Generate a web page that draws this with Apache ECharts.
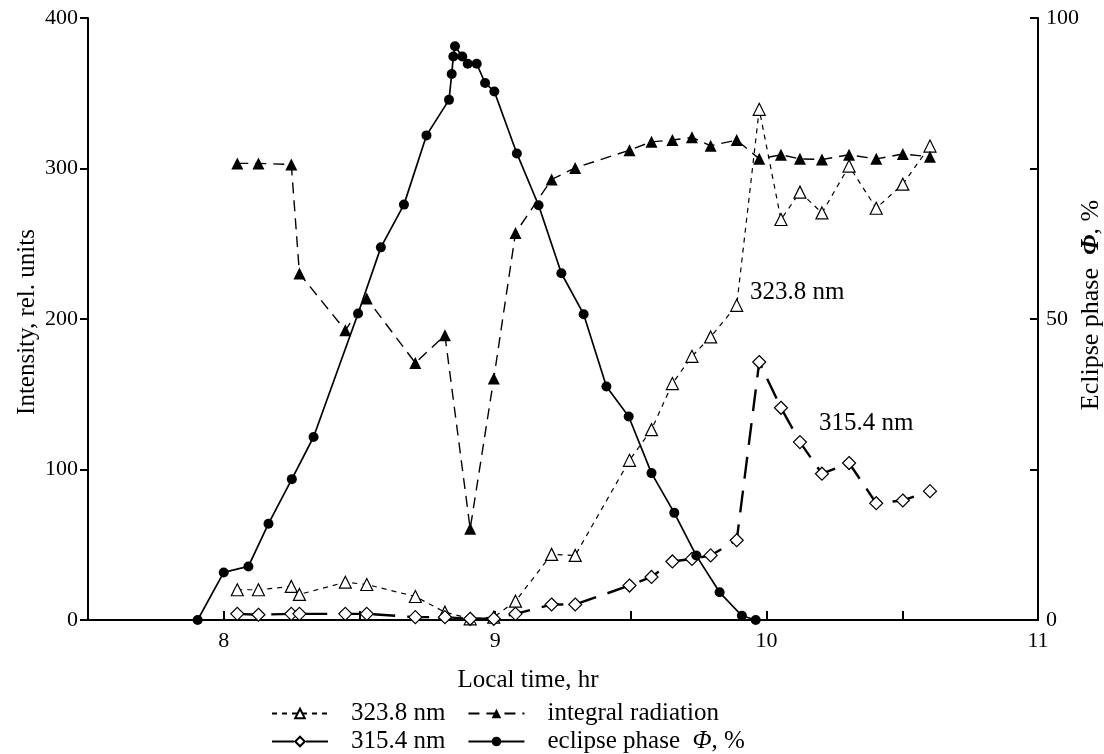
<!DOCTYPE html>
<html><head><meta charset="utf-8">
<script src="https://cdn.jsdelivr.net/npm/echarts@6/dist/echarts.min.js"></script>
<style>html,body{margin:0;padding:0;background:#fff}#c{width:1104px;height:754px}</style>
</head><body><div id="c"></div>
<script>
// ---- data ----
const eclipseTime = [7.904, 8.000, 8.091, 8.165, 8.251, 8.331, 8.495, 8.579, 8.664, 8.747, 8.830, 8.840, 8.846, 8.852, 8.879, 8.899, 8.932, 8.963, 8.997, 9.080, 9.160, 9.244, 9.326, 9.410, 9.492, 9.576, 9.660, 9.741, 9.827, 9.909, 9.960];
const eclipsePhase = [0, 7.9, 8.9, 16.0, 23.4, 30.4, 50.9, 61.9, 69.0, 80.5, 86.4, 90.7, 93.6, 95.3, 93.6, 92.4, 92.4, 89.2, 87.8, 77.5, 68.9, 57.6, 50.8, 38.8, 33.8, 24.4, 17.8, 10.7, 4.6, 0.7, 0];
const measTime = [8.050, 8.128, 8.249, 8.279, 8.448, 8.527, 8.706, 8.815, 8.908, 8.995, 9.075, 9.208, 9.295, 9.495, 9.576, 9.653, 9.725, 9.794, 9.890, 9.973, 10.053, 10.123, 10.204, 10.304, 10.404, 10.502, 10.602];
const integralRad = [303.4, 303.4, 302.7, 230.2, 192.5, 213.6, 170.8, 189.2, 60.6, 160.4, 257.2, 292.7, 300.4, 312.2, 317.7, 318.9, 320.7, 315.1, 318.9, 306.4, 309.1, 306.4, 306.0, 309.1, 306.4, 309.6, 307.8];
const nm323 = [20.1, 20.1, 22.3, 17.0, 25.1, 23.6, 15.6, 5.2, 0.8, 1.9, 12.5, 43.6, 42.9, 106.1, 126.5, 157.1, 175.2, 188.1, 209.1, 339.3, 266.1, 284.3, 270.5, 301.6, 273.6, 289.6, 314.9];
const nm315 = [4.1, 3.5, 4.1, 4.1, 4.1, 4.1, 1.9, 1.9, 0.8, 0.8, 4.1, 10.3, 10.3, 22.9, 28.6, 38.9, 40.6, 42.9, 53.0, 171.4, 141.0, 118.2, 97.2, 104.3, 77.6, 79.4, 85.6];
const xTickLabels = [8, 9, 10, 11];
const phaseTickLabels = [0, 50, 100];
const seriesNames = ['323.8 nm', 'integral radiation', '315.4 nm', 'eclipse phase Φ, %'];

const FONT = '"Liberation Serif", "Times New Roman", serif';
const pair = (xs, ys) => xs.map((x, i) => [x, ys[i]]);

const chart = echarts.init(document.getElementById('c'), null, {renderer: 'canvas'});
const legendText = {fontFamily: FONT, fontSize: 25, color: '#000', padding: [0, 0, 0, 18],
  rich: {i: {fontFamily: FONT, fontSize: 25, fontStyle: 'italic', color: '#000'}}};
const legendFmt = n => n.replace('Φ', ' {i|Φ}');

chart.setOption({
  animation: false,
  backgroundColor: '#fff',
  grid: {left: 88, right: 66, top: 18, bottom: 134},
  xAxis: {
    type: 'value', min: 7.5, max: 11, interval: 0.5,
    axisLine: {lineStyle: {color: '#000', width: 2}},
    axisTick: {inside: true, length: 9, lineStyle: {color: '#000', width: 2}},
    axisLabel: {margin: 10, color: '#000', fontFamily: FONT, fontSize: 22,
      formatter: v => xTickLabels.includes(v) ? String(v) : ''},
    splitLine: {show: false}
  },
  yAxis: [{
    type: 'value', min: 0, max: 400, interval: 100,
    axisLine: {show: true, lineStyle: {color: '#000', width: 2}},
    axisTick: {show: true, inside: false, length: 8, lineStyle: {color: '#000', width: 2}},
    axisLabel: {margin: 10, color: '#000', fontFamily: FONT, fontSize: 22},
    splitLine: {show: false}
  }, {
    type: 'value', min: 0, max: 100, interval: 25, position: 'right',
    axisLine: {show: true, lineStyle: {color: '#000', width: 2}},
    axisTick: {show: true, inside: true, length: 8, lineStyle: {color: '#000', width: 2}},
    axisLabel: {margin: 8, color: '#000', fontFamily: FONT, fontSize: 22,
      formatter: v => phaseTickLabels.includes(v) ? String(v) : ''},
    splitLine: {show: false}
  }],
  legend: [{
    data: [seriesNames[0], seriesNames[1]], left: 271, top: 701, padding: 0,
    itemWidth: 56, itemHeight: 12, itemGap: 22, selectedMode: false,
    textStyle: legendText, formatter: legendFmt
  }, {
    data: [seriesNames[2], seriesNames[3]], left: 271, top: 729, padding: 0,
    itemWidth: 56, itemHeight: 12, itemGap: 22, selectedMode: false,
    textStyle: legendText, formatter: legendFmt
  }],
  series: [{
    name: seriesNames[0], type: 'line', data: pair(measTime, nm323),
    symbol: 'triangle', symbolSize: 12, z: 3,
    itemStyle: {color: '#fff', borderColor: '#000', borderWidth: 1.2},
    lineStyle: {color: '#000', width: 1.2, type: [5, 5]}
  }, {
    name: seriesNames[1], type: 'line', data: pair(measTime, integralRad),
    symbol: 'triangle', symbolSize: 12, z: 4,
    itemStyle: {color: '#000', borderColor: '#000', borderWidth: 0},
    lineStyle: {color: '#000', width: 1.4, type: [11, 7]}
  }, {
    name: seriesNames[2], type: 'line', data: pair(measTime, nm315),
    symbol: 'diamond', symbolSize: 13, z: 3,
    itemStyle: {color: '#fff', borderColor: '#000', borderWidth: 1.2},
    lineStyle: {color: '#000', width: 2.4, type: [22, 12]}
  }, {
    name: seriesNames[3], type: 'line', yAxisIndex: 1, data: pair(eclipseTime, eclipsePhase),
    symbol: 'circle', symbolSize: 10, z: 5,
    itemStyle: {color: '#000'},
    lineStyle: {color: '#000', width: 1.7, type: 'solid'}
  }],
  graphic: [
    {type: 'text', x: 528, y: 680, style: {text: 'Local time, hr', font: '25px ' + FONT, fill: '#000', textAlign: 'center', textVerticalAlign: 'middle', align: 'center', verticalAlign: 'middle'}},
    {type: 'text', x: 27, y: 322, rotation: Math.PI / 2, style: {text: 'Intensity, rel. units', font: '25px ' + FONT, fill: '#000', textAlign: 'center', textVerticalAlign: 'middle', align: 'center', verticalAlign: 'middle'}},
    {type: 'text', x: 1091, y: 305, rotation: Math.PI / 2, style: {text: 'Eclipse phase  {b|Φ}, %', font: '26px ' + FONT, fill: '#000', textAlign: 'center', textVerticalAlign: 'middle', align: 'center', verticalAlign: 'middle',
      rich: {b: {font: 'italic bold 26px ' + FONT, fill: '#000'}}}},
    {type: 'text', x: 750, y: 292, style: {text: '323.8 nm', font: '25px ' + FONT, fill: '#000', textAlign: 'left', textVerticalAlign: 'middle', align: 'left', verticalAlign: 'middle'}},
    {type: 'text', x: 819, y: 423, style: {text: '315.4 nm', font: '25px ' + FONT, fill: '#000', textAlign: 'left', textVerticalAlign: 'middle', align: 'left', verticalAlign: 'middle'}}
  ]
});
</script></body></html>
